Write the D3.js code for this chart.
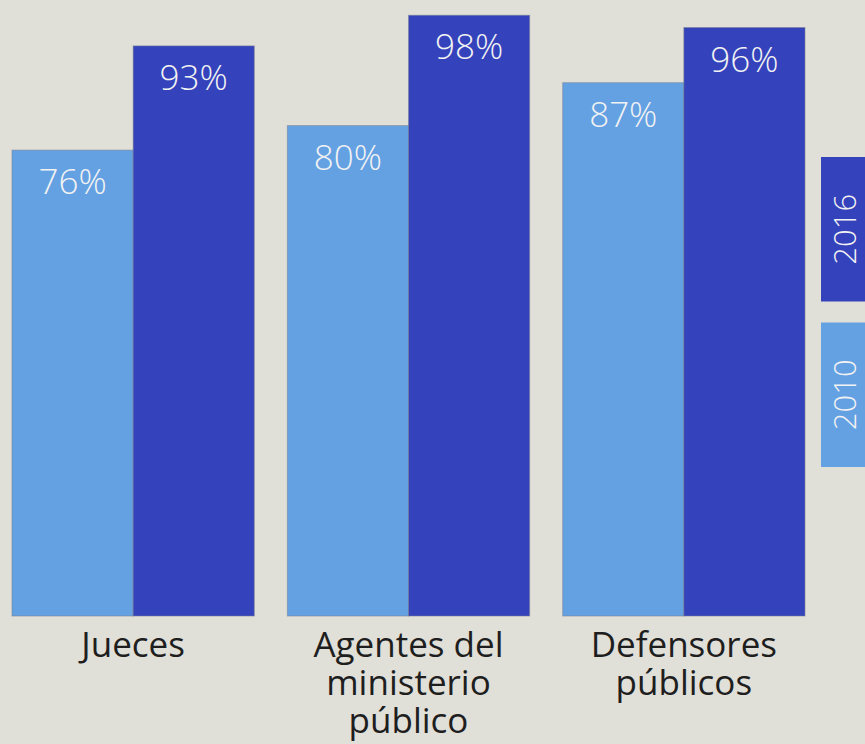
<!DOCTYPE html>
<html>
<head>
<meta charset="utf-8">
<script src="https://cdn.jsdelivr.net/npm/d3@7/dist/d3.min.js"></script>
<style>
  html, body { margin: 0; padding: 0; background: #e0dfd8; }
  svg { display: block; }
</style>
</head>
<body>
<svg id="chart" width="865" height="744"></svg>
<script>
// Categories (each label split into display lines)
const categories = ["Jueces", "Agentes del ministerio público", "Defensores públicos"];
const categoryLines = [["Jueces"], ["Agentes del", "ministerio", "público"], ["Defensores", "públicos"]];
const years = ["2010", "2016"];
const values2010 = [76, 80, 87];
const values2016 = [93, 98, 96];

const colors = { "2010": "#64a1e3", "2016": "#3442bc" };
const font = "'Open Sans', 'Noto Sans', sans-serif";

const svg = d3.select("#chart");
const W = 865, H = 744;
svg.append("rect").attr("width", W).attr("height", H).attr("fill", "#e0dfd8");

const baseY = 616;
const y = d3.scaleLinear().domain([0, 100]).range([baseY, 3]);
const x0 = d3.scaleBand().domain(categories).range([12, 805]).paddingInner(0.12).paddingOuter(0);
const x1 = d3.scaleBand().domain(years).range([0, x0.bandwidth()]);

const series = { "2010": values2010, "2016": values2016 };

const groups = svg.selectAll("g.group")
  .data(categories)
  .join("g")
  .attr("class", "group")
  .attr("transform", d => `translate(${x0(d)},0)`);

groups.each(function(cat, i) {
  const g = d3.select(this);
  years.forEach(yr => {
    const v = series[yr][i];
    g.append("rect")
      .attr("x", x1(yr))
      .attr("y", y(v))
      .attr("width", x1.bandwidth())
      .attr("height", y(0) - y(v))
      .attr("fill", colors[yr])
      .attr("stroke", "rgba(120,128,145,0.55)")
      .attr("stroke-width", 1);
    g.append("text")
      .attr("x", x1(yr) + x1.bandwidth() / 2)
      .attr("y", y(v) + 44)
      .attr("text-anchor", "middle")
      .attr("fill", "#f2f2f2")
      .attr("font-family", font)
      .attr("font-weight", 300)
      .attr("font-size", 35)
      .text(v + "%");
  });
  // Category label lines under the group
  const t = g.append("text")
    .attr("text-anchor", "middle")
    .attr("fill", "#1e1e1e")
    .attr("font-family", font)
    .attr("font-size", 35);
  categoryLines[i].forEach((line, k) => {
    t.append("tspan")
      .attr("x", x0.bandwidth() / 2)
      .attr("y", 657 + k * 38)
      .text(line);
  });
});

// Legend: vertical colour boxes with rotated year labels
const legendY = d3.scaleBand().domain(["2016", "2010"]).range([157, 467]).paddingInner(0.127);
const legend = svg.append("g").attr("class", "legend");
["2016", "2010"].forEach(yr => {
  legend.append("rect")
    .attr("x", 821)
    .attr("y", legendY(yr))
    .attr("width", 50)
    .attr("height", legendY.bandwidth())
    .attr("fill", colors[yr]);
  const cx = 845, cy = legendY(yr) + legendY.bandwidth() / 2;
  legend.append("text")
    .attr("transform", `translate(${cx},${cy}) rotate(-90)`)
    .attr("text-anchor", "middle")
    .attr("dy", "0.36em")
    .attr("fill", "#f2f2f2")
    .attr("font-family", font)
    .attr("font-weight", 300)
    .attr("font-size", 31)
    .text(yr);
});
</script>
</body>
</html>
